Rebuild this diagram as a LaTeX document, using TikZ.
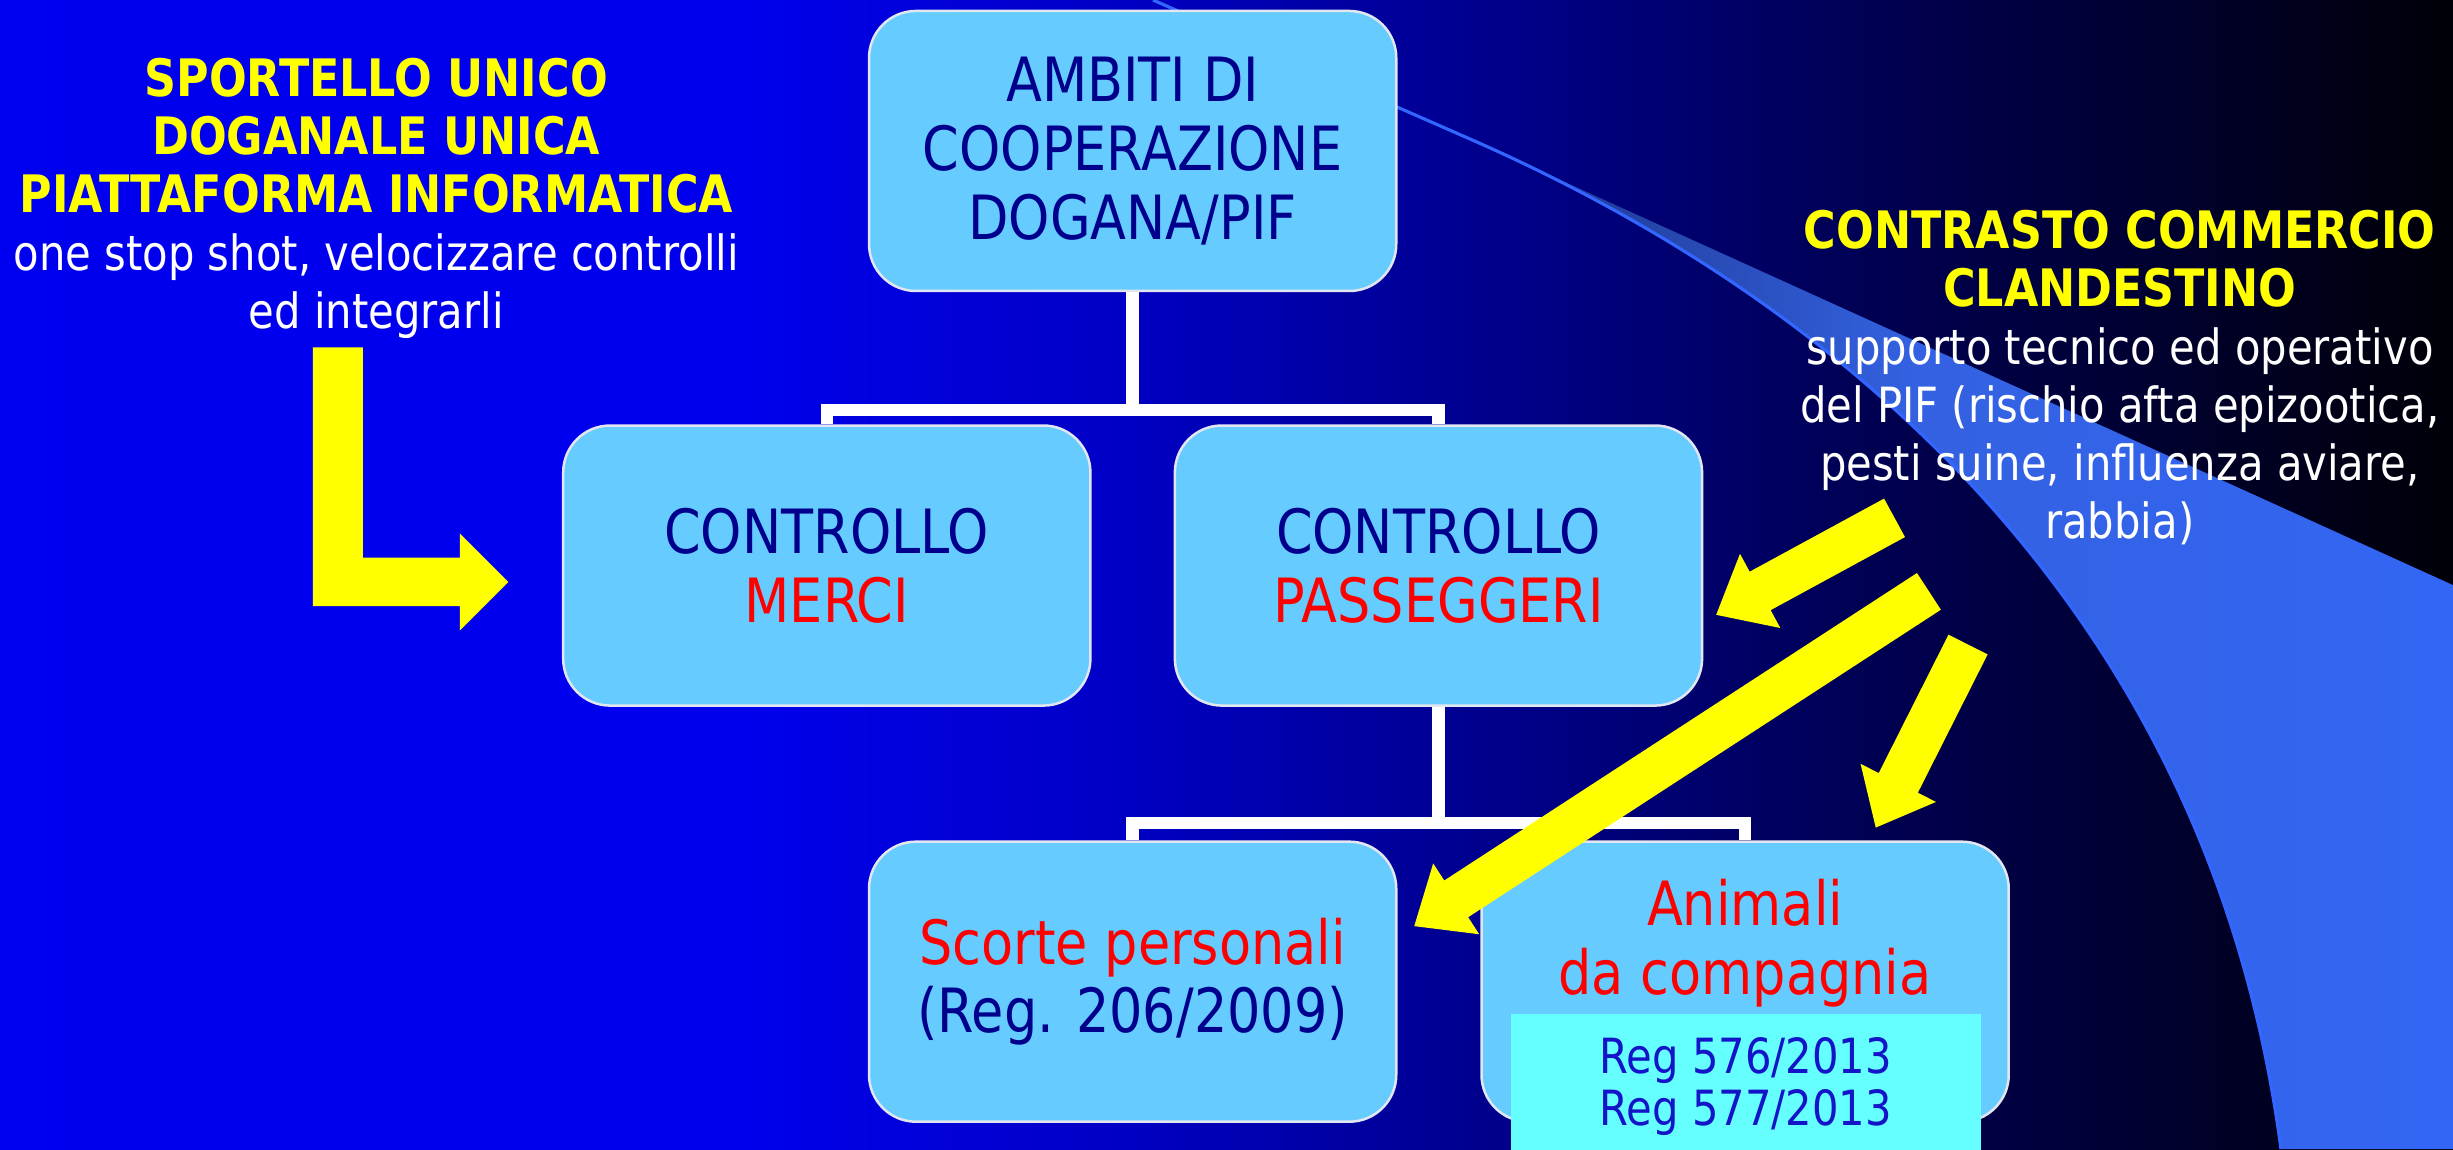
\documentclass[tikz,border=0pt]{standalone}
\usepackage{fontspec}
\setmainfont{DejaVu Sans}[FakeStretch=0.86]
\usetikzlibrary{calc}
\definecolor{boxblue}{RGB}{102,204,255}
\definecolor{boxedge}{RGB}{225,230,240}
\definecolor{navytxt}{RGB}{0,0,140}
\definecolor{regtxt}{RGB}{20,20,200}
\definecolor{cyanbox}{RGB}{102,255,255}
\definecolor{swline}{RGB}{51,102,255}
\definecolor{ylw}{RGB}{255,255,0}
\definecolor{redtxt}{RGB}{255,0,0}
\pgfdeclarehorizontalshading{bgshade}{100bp}{rgb(0bp)=(0,0,0.94); rgb(25bp)=(0,0,0.94); rgb(40bp)=(0,0,0.93); rgb(47.5bp)=(0,0,0.78); rgb(55bp)=(0,0,0.56); rgb(62.5bp)=(0,0,0.34); rgb(70bp)=(0,0,0.16); rgb(75bp)=(0,0,0.03); rgb(100bp)=(0,0,0.03)}
\pgfdeclarehorizontalshading{wedgeshade}{100bp}{rgb(0bp)=(0.1,0.18,0.5); rgb(25bp)=(0.1,0.18,0.5); rgb(37.5bp)=(0.16,0.3,0.72); rgb(47.5bp)=(0.2,0.38,0.88); rgb(75bp)=(0.2,0.4,0.96); rgb(100bp)=(0.2,0.4,0.96)}
\newcommand\hb[1]{{\fontsize{16.5}{18.5}\selectfont\bfseries\color{ylw}#1}}
\newcommand\blockarr[5]{%
  \path ($(#2)!#5!(#1)$) coordinate (ba-base);
  \fill[ylw] ($(#1)!#3!90:(#2)$) -- ($(ba-base)!#3!90:(#2)$) -- ($(ba-base)!#4!90:(#2)$) -- (#2)
    -- ($(ba-base)!#4!-90:(#2)$) -- ($(ba-base)!#3!-90:(#2)$) -- ($(#1)!#3!-90:(#2)$) -- cycle;}
\begin{document}
\begin{tikzpicture}[x=0.5pt,y=-0.5pt,
  box/.style={rectangle, rounded corners=15pt, minimum width=168.5pt, minimum height=89.5pt,
    fill=boxblue, draw=boxedge, line width=0.8pt, align=center, text=navytxt,
    font=\fontsize{19.5}{22}\selectfont, inner sep=0pt},
  conn/.style={draw=white, line width=4pt},
  sidetxt/.style={align=center, text=white, inner sep=0pt, font=\fontsize{15.5}{18.5}\selectfont},
  regbox/.style={fill=cyanbox, minimum width=150pt, minimum height=46.5pt, inner sep=0pt,
    align=center, text=regtxt, font=\fontsize{15.5}{16.5}\selectfont}]
\useasboundingbox (0,0) rectangle (1568,734.5);
\shade[shading=bgshade] (0,0) rectangle (1568,734.5);
% swoosh
\shade[shading=wedgeshade] (940,89) -- (1568,374) -- (1568,734.5) -- (1458,734.5)
  .. controls (1410,370) and (1150,181) .. (940,89) -- cycle;
\draw[swline, line width=1pt] (737,0) -- (940,89) .. controls (1150,181) and (1410,370) .. (1458,734.5);
% boxes
\node[box] (ambiti) at (724,96.5) {AMBITI DI\\COOPERAZIONE\\DOGANA/PIF};
\node[box] (merci) at (528.5,361.5) {CONTROLLO\\\textcolor{redtxt}{MERCI}};
\node[box] (pass) at (919.5,361.5) {CONTROLLO\\\textcolor{redtxt}{PASSEGGERI}};
\node[box] (scorte) at (724,627.5) {\textcolor{redtxt}{Scorte personali}\\(Reg. 206/2009)};
\node[box] (animali) at (1115.5,627.5) {\textcolor{redtxt}{Animali}\\\textcolor{redtxt}{da compagnia}\\\strut};
\node[regbox] (regs) at (1116,694.5) {Reg 576/2013\\Reg 577/2013};
% connectors
\coordinate (bus1) at (724,262);
\coordinate (bus2) at (919.5,526);
\draw[conn] (ambiti.south) -- (bus1);
\draw[conn] (merci.north) |- (bus1) -| (pass.north);
\draw[conn] (pass.south) -- (bus2);
\draw[conn] (scorte.north) |- (bus2) -| (animali.north);
% side texts
\node[sidetxt, anchor=north] (lefttxt) at (240.5,37) {\hb{SPORTELLO UNICO}\\\hb{DOGANALE UNICA}\\\hb{PIATTAFORMA INFORMATICA}\\one stop shot, velocizzare controlli\\ed integrarli};
\node[sidetxt, anchor=north] (righttxt) at (1355,134) {\hb{CONTRASTO COMMERCIO}\\\hb{CLANDESTINO}\\supporto tecnico ed operativo\\del PIF (rischio afta epizootica,\\pesti suine, influenza aviare,\\rabbia)};
% yellow arrows
\coordinate (ltail) at (216,222);
\coordinate (ltip) at (325,372);
\fill[ylw] ($(ltail)+(-16,0)$) -- ($(ltail)+(16,0)$) -- ($(ltail |- ltip)+(16,-15.5)$)
  -- ($(ltip)+(-31,-15.5)$) -- ($(ltip)+(-31,-31)$) -- (ltip) -- ($(ltip)+(-31,31)$)
  -- ($(ltip)+(-31,15.5)$) -- ($(ltail |- ltip)+(-16,15.5)$) -- cycle;
\coordinate (ta) at (1211,331); \coordinate (pa) at (1097,393);
\coordinate (tb) at (1233,378); \coordinate (pb) at (904,592);
\coordinate (tc) at (1258,412); \coordinate (pc) at (1199,529);
\blockarr{ta}{pa}{7pt}{13.5pt}{16pt}
\blockarr{tb}{pb}{7pt}{13.5pt}{16pt}
\blockarr{tc}{pc}{7pt}{13.5pt}{16pt}
\end{tikzpicture}
\end{document}
